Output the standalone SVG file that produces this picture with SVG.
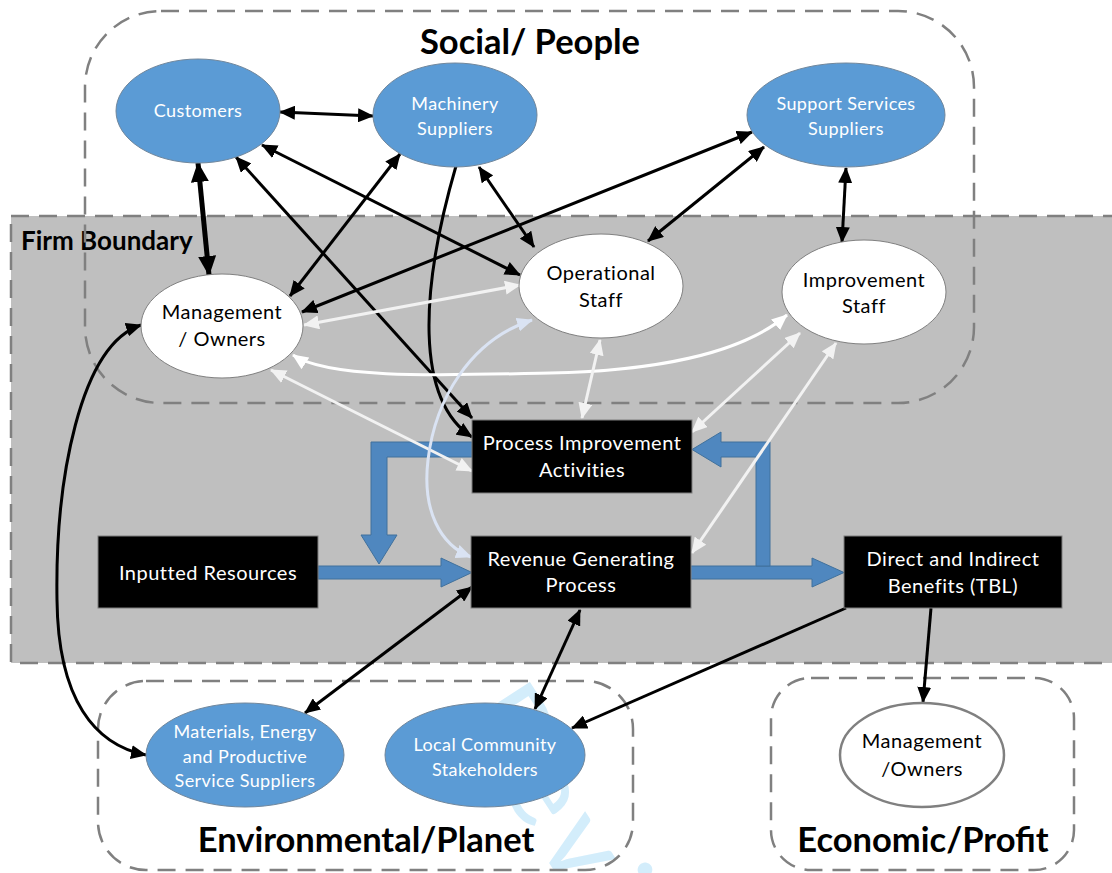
<svg xmlns="http://www.w3.org/2000/svg" width="1112" height="873" viewBox="0 0 1112 873">
<style>
.t{font-family:Lato,"Open Sans","Liberation Sans",sans-serif;text-anchor:middle}
.ttl{font-weight:bold;font-size:34.5px;fill:#000}
.nb{font-size:18px;fill:#fff;letter-spacing:0.4px}
.nw{font-size:20px;fill:#000;letter-spacing:0.5px}
.nk{font-size:20px;fill:#fff;letter-spacing:0.5px}
.blue{fill:#5B9BD5;stroke:#71879C;stroke-width:1}
.white{fill:#fff;stroke:#808080;stroke-width:1}
.box{fill:#000;stroke:#7F7F7F;stroke-width:1}
.dash{fill:none;stroke:#808080;stroke-width:2.5;stroke-dasharray:18 10}
.bk{fill:none;stroke:#000;stroke-width:3}
.lt{fill:none;stroke:#F2F2F2;stroke-width:3}
.wh{fill:none;stroke:#FFFFFF;stroke-width:3}
.lb{fill:none;stroke:#DAE3F3;stroke-width:3}
.ba{fill:#4F87BF;stroke:#41719C;stroke-width:1}
</style>
<defs>
<marker id="ab" viewBox="0 0 16 14" refX="15" refY="7" markerWidth="16" markerHeight="14" markerUnits="userSpaceOnUse" orient="auto-start-reverse"><path d="M0,0 L16,7 L0,14 z" fill="#000"/></marker>
<marker id="abt" viewBox="0 0 20 18" refX="19" refY="9" markerWidth="20" markerHeight="18" markerUnits="userSpaceOnUse" orient="auto-start-reverse"><path d="M0,0 L20,9 L0,18 z" fill="#000"/></marker>
<marker id="al" viewBox="0 0 16 14" refX="15" refY="7" markerWidth="16" markerHeight="14" markerUnits="userSpaceOnUse" orient="auto-start-reverse"><path d="M0,0 L16,7 L0,14 z" fill="#F2F2F2"/></marker>
<marker id="aw" viewBox="0 0 16 14" refX="15" refY="7" markerWidth="16" markerHeight="14" markerUnits="userSpaceOnUse" orient="auto-start-reverse"><path d="M0,0 L16,7 L0,14 z" fill="#FFFFFF"/></marker>
<marker id="alb" viewBox="0 0 16 14" refX="15" refY="7" markerWidth="16" markerHeight="14" markerUnits="userSpaceOnUse" orient="auto-start-reverse"><path d="M0,0 L16,7 L0,14 z" fill="#DAE3F3"/></marker>
</defs>
<rect width="1112" height="873" fill="#fff"/>

<!-- watermark -->
<g id="watermark" font-family="Lato,'Open Sans',sans-serif" font-size="115" fill="#D3EDFB">
<text transform="translate(455,718) rotate(57)" text-anchor="start" letter-spacing="10">Review</text>
<text transform="translate(438,692) rotate(57)" text-anchor="end" letter-spacing="10">For Peer</text>
</g>

<!-- regions -->
<g id="firm-boundary">
<rect x="11" y="216" width="1120" height="447" fill="#BFBFBF" stroke="#808080" stroke-width="2.5" stroke-dasharray="18 10"/>
<text x="21" y="250" font-family="Lato,'Open Sans',sans-serif" font-weight="bold" font-size="26" fill="#000">Firm Boundary</text>
</g>
<g id="social">
<rect x="85" y="11" width="889" height="392" rx="76" ry="76" class="dash"/>
<text class="t ttl" x="530" y="54">Social/ People</text>
</g>
<g id="environmental">
<rect x="98" y="681" width="535" height="189" rx="48" ry="48" class="dash"/>
<text class="t ttl" x="366" y="852">Environmental/Planet</text>
</g>
<g id="economic">
<rect x="771" y="678" width="303" height="192" rx="40" ry="40" class="dash"/>
<text class="t ttl" x="923" y="852">Economic/Profit</text>
</g>

<!-- block flow arrows -->
<g id="flows">
<polygon class="ba" points="318,566 441,566 441,558 472,572.5 441,587 441,579 318,579"/>
<polygon class="ba" points="690,566 812,566 812,558 844,572.5 812,587 812,579 690,579"/>
<polygon class="ba" points="770,566 770,442 721,442 721,432 692,449.5 721,467 721,457 756,457 756,566"/>
<polygon class="ba" points="472,442 371,442 371,535 361,535 379,564 397,535 387,535 387,457 472,457"/>
</g>

<!-- connectors -->
<g id="connectors">
<path class="bk" d="M280,112 L373,116" marker-start="url(#ab)" marker-end="url(#ab)"/>
<path fill="none" stroke="#000" stroke-width="5" d="M198,163 L209,275" marker-start="url(#abt)" marker-end="url(#abt)"/>
<path class="bk" d="M236,157 L472,418" marker-start="url(#ab)" marker-end="url(#ab)"/>
<path class="bk" d="M262,145 L520,275" marker-start="url(#ab)" marker-end="url(#ab)"/>
<path class="bk" d="M400,154 L290,296" marker-start="url(#ab)" marker-end="url(#ab)"/>
<path class="bk" d="M479,167 L534,247" marker-start="url(#ab)" marker-end="url(#ab)"/>
<path class="bk" d="M456,166 C420,290 415,400 472,437" marker-end="url(#ab)"/>
<path class="bk" d="M752,132 L302,312" marker-start="url(#ab)" marker-end="url(#ab)"/>
<path class="bk" d="M764,147 L648,241" marker-start="url(#ab)" marker-end="url(#ab)"/>
<path class="bk" d="M846,168 L842,242" marker-start="url(#ab)" marker-end="url(#ab)"/>
<path class="bk" d="M141,325 C80,345 55,480 57,600 C58,700 95,745 146,755" marker-start="url(#ab)" marker-end="url(#ab)"/>
<path class="bk" d="M472,587 L305,713" marker-start="url(#ab)" marker-end="url(#ab)"/>
<path class="bk" d="M580,610 L535,709" marker-start="url(#ab)" marker-end="url(#ab)"/>
<path class="bk" d="M846,608 L572,728" marker-end="url(#ab)"/>
<path class="bk" d="M931,608 L923,702" marker-end="url(#ab)"/>

<path class="lt" d="M304,325 L520,285" marker-start="url(#al)" marker-end="url(#al)"/>
<path class="wh" d="M293,355 C330,380 450,375 550,373 C650,371 740,355 787,315" marker-start="url(#aw)" marker-end="url(#aw)"/>
<path class="lt" d="M271,370 L472,471" marker-start="url(#al)" marker-end="url(#al)"/>
<path class="lt" d="M600,340 L582,418" marker-start="url(#al)" marker-end="url(#al)"/>
<path class="lt" d="M800,333 L692,432" marker-start="url(#al)" marker-end="url(#al)"/>
<path class="lt" d="M836,343 L692,553" marker-start="url(#al)" marker-end="url(#al)"/>
<path class="lb" d="M532,320 C470,340 435,400 428,460 C422,510 440,545 471,557" marker-start="url(#alb)" marker-end="url(#alb)"/>
</g>

<!-- nodes -->
<g id="customers"><ellipse class="blue" cx="198" cy="111" rx="82" ry="52"/><text class="t nb" x="198" y="117">Customers</text></g>
<g id="machinery-suppliers"><ellipse class="blue" cx="455" cy="115" rx="82" ry="52"/><text class="t nb" x="455" y="110">Machinery</text><text class="t nb" x="455" y="135">Suppliers</text></g>
<g id="support-services-suppliers"><ellipse class="blue" cx="846" cy="115" rx="99" ry="52"/><text class="t nb" x="846" y="110">Support Services</text><text class="t nb" x="846" y="135">Suppliers</text></g>
<g id="management-owners"><ellipse class="white" cx="222" cy="326" rx="81" ry="52"/><text class="t nw" x="222" y="319">Management</text><text class="t nw" x="222" y="346">/ Owners</text></g>
<g id="operational-staff"><ellipse class="white" cx="601" cy="286" rx="82" ry="52"/><text class="t nw" x="601" y="280">Operational</text><text class="t nw" x="601" y="307">Staff</text></g>
<g id="improvement-staff"><ellipse class="white" cx="864" cy="292" rx="82" ry="52"/><text class="t nw" x="864" y="287">Improvement</text><text class="t nw" x="864" y="313">Staff</text></g>
<g id="process-improvement"><rect class="box" x="472" y="420" width="220" height="73"/><text class="t nk" x="582" y="450">Process Improvement</text><text class="t nk" x="582" y="477">Activities</text></g>
<g id="revenue-generating"><rect class="box" x="471" y="536" width="220" height="72"/><text class="t nk" x="581" y="566">Revenue Generating</text><text class="t nk" x="581" y="592">Process</text></g>
<g id="inputted-resources"><rect class="box" x="98" y="536" width="220" height="72"/><text class="t nk" x="208" y="580">Inputted Resources</text></g>
<g id="direct-indirect-benefits"><rect class="box" x="844" y="536" width="218" height="72"/><text class="t nk" x="953" y="566">Direct and Indirect</text><text class="t nk" x="953" y="593">Benefits (TBL)</text></g>
<g id="materials-suppliers"><ellipse class="blue" cx="245" cy="755" rx="99" ry="52"/><text class="t nb" x="245" y="738">Materials, Energy</text><text class="t nb" x="245" y="763">and Productive</text><text class="t nb" x="245" y="787">Service Suppliers</text></g>
<g id="local-community"><ellipse class="blue" cx="485" cy="755" rx="100" ry="52"/><text class="t nb" x="485" y="751">Local Community</text><text class="t nb" x="485" y="776">Stakeholders</text></g>
<g id="management-owners-economic"><ellipse fill="#fff" stroke="#808080" stroke-width="2.5" cx="922" cy="755" rx="82" ry="52"/><text class="t nw" x="922" y="748">Management</text><text class="t nw" x="922" y="776">/Owners</text></g>
</svg>
